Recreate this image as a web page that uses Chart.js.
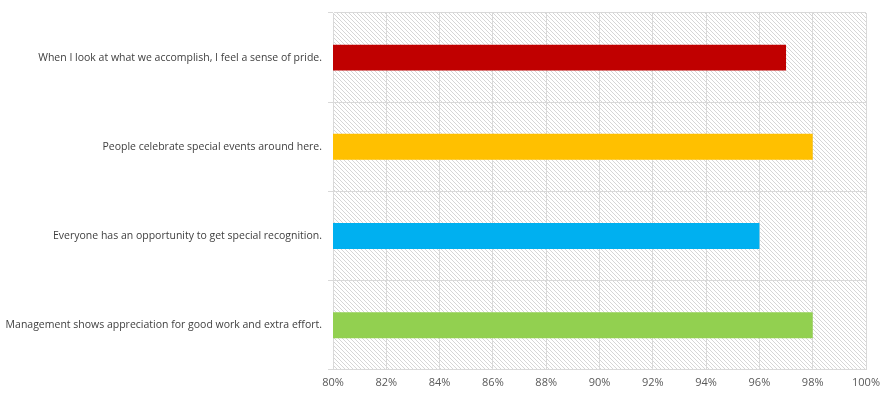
<!DOCTYPE html>
<html lang="en">
<head>
  <meta charset="UTF-8">
  <title>Recognition survey</title>
  <script src="https://cdn.jsdelivr.net/npm/chart.js"></script>
  <style>
    html, body { margin: 0; padding: 0; background: #fff; }
    #wrap { width: 888px; height: 397px; }
  </style>
</head>
<body>
  <div id="wrap"><canvas id="grafica"></canvas></div>

  <script>
    const preguntas = [
      'When I look at what we accomplish, I feel a sense of pride.',
      'People celebrate special events around here.',
      'Everyone has an opportunity to get special recognition.',
      'Management shows appreciation for good work and extra effort.'
    ];
    const valores = [97, 98, 96, 98];
    const colores = ['#C00000', '#FFC000', '#00B0F0', '#92D050'];
    const ejeMin = 80;
    const ejeMax = 100;
    const paso = 2;

    // hatch pattern for the plot area
    const pc = document.createElement('canvas');
    pc.width = 4; pc.height = 4;
    const pctx = pc.getContext('2d');
    pctx.fillStyle = '#d6d6d6';
    for (let i = 0; i < 4; i++) pctx.fillRect(i, i, 1, 1);

    const rayado = {
      id: 'rayado',
      beforeDraw(chart) {
        const { ctx, chartArea: a } = chart;
        ctx.save();
        ctx.fillStyle = ctx.createPattern(pc, 'repeat');
        ctx.fillRect(a.left, a.top, a.right - a.left, a.bottom - a.top);
        ctx.restore();
      }
    };

    const ctx = document.getElementById('grafica').getContext('2d');
    new Chart(ctx, {
      type: 'bar',
      data: {
        labels: preguntas,
        datasets: [{
          data: valores,
          backgroundColor: colores,
          categoryPercentage: 0.58,
          barPercentage: 0.5
        }]
      },
      options: {
        indexAxis: 'y',
        responsive: true,
        maintainAspectRatio: false,
        animation: false,
        layout: { padding: { top: 13, right: 22, bottom: 2, left: 0 } },
        plugins: { legend: { display: false }, tooltip: { enabled: false } },
        scales: {
          x: {
            min: ejeMin,
            max: ejeMax,
            ticks: {
              stepSize: paso,
              color: '#595959',
              font: { family: 'Open Sans', size: 11 },
              padding: 6,
              callback: v => v + '%'
            },
            grid: { color: '#d9d9d9', drawTicks: false },
            border: { color: '#d9d9d9' }
          },
          y: {
            afterFit(s) { s.width = 333; },
            ticks: {
              color: '#404040',
              font: { family: 'Open Sans', size: 10.5 },
              padding: 6
            },
            grid: { color: '#d9d9d9', offset: true, tickLength: 5 },
            border: { color: '#d9d9d9' }
          }
        }
      },
      plugins: [rayado]
    });
  </script>
</body>
</html>
